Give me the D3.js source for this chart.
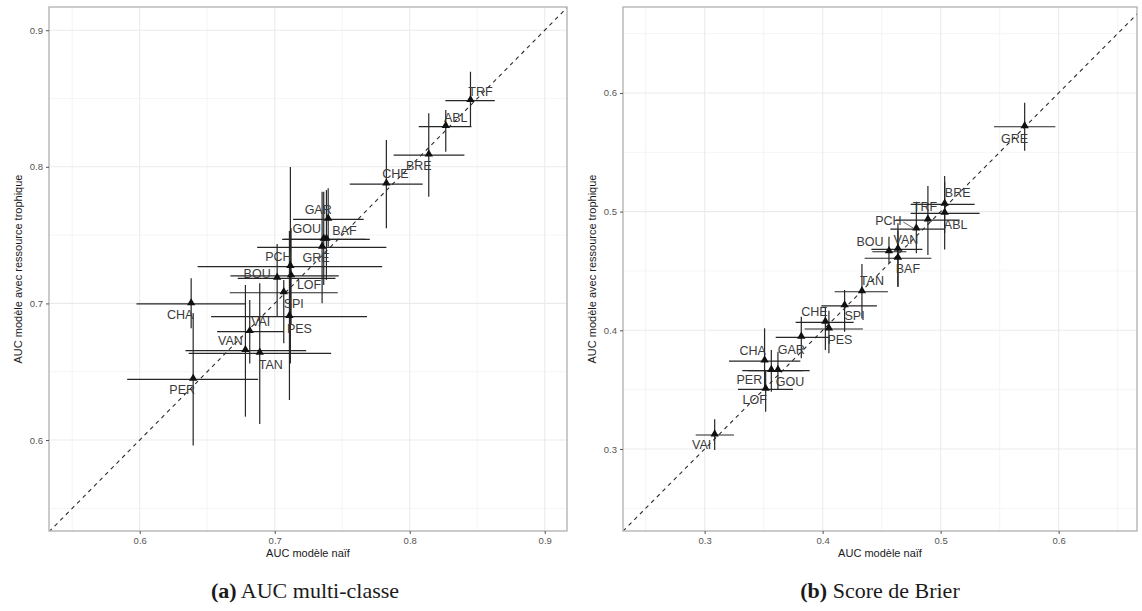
<!DOCTYPE html>
<html>
<head>
<meta charset="utf-8">
<script src="https://cdn.jsdelivr.net/npm/d3@7"></script>
<style>
  html, body { margin: 0; padding: 0; background: #fff; }
  svg { display: block; }
  text { font-family: "Liberation Sans", Arial, sans-serif; }
  text.caption { font-family: "Liberation Serif", "Times New Roman", serif; }
</style>
</head>
<body>
<svg id="chart" width="1142" height="611"></svg>
<script>
// ---------- DATA ----------
// Panel (a) AUC multi-classe
const aNames = ["TRF","ABL","BRE","CHE","GAR","GOU","BAF","GRE","PCH","LOF","BOU","SPI","PES","CHA","VAI","VAN","TAN","PER"];
const aX   = [0.845,0.8267,0.8141,0.7827,0.7396,0.7363,0.7383,0.7351,0.7116,0.7121,0.7018,0.7067,0.7109,0.6381,0.6815,0.6783,0.6889,0.6396];
const aXlo = [0.8264,0.8067,0.7881,0.7556,0.7136,0.7055,0.7067,0.687,0.6429,0.6672,0.6726,0.6667,0.6529,0.5976,0.6573,0.6339,0.6363,0.5907];
const aXhi = [0.863,0.8457,0.8405,0.8096,0.7659,0.7704,0.7672,0.7827,0.7796,0.7474,0.745,0.7467,0.7684,0.6784,0.7067,0.7233,0.7418,0.6877];
const aY   = [0.8484,0.8294,0.8086,0.7874,0.7616,0.7469,0.7469,0.7411,0.7269,0.7201,0.7184,0.7078,0.6903,0.6996,0.6793,0.6654,0.6635,0.6444];
const aYlo = [0.8294,0.8111,0.7781,0.755,0.7415,0.7135,0.7172,0.7001,0.656,0.685,0.6903,0.6708,0.6293,0.6818,0.6561,0.6171,0.6117,0.596];
const aYhi = [0.8696,0.8416,0.8392,0.8196,0.7843,0.7818,0.783,0.7818,0.7998,0.755,0.7435,0.7171,0.753,0.7184,0.7025,0.7135,0.7147,0.693];
const aTicks = [0.6, 0.7, 0.8, 0.9];
const aMinor = [0.55, 0.65, 0.75, 0.85];

// Panel (b) Score de Brier
const bNames = ["GRE","BRE","ABL","TRF","PCH","VAN","BOU","BAF","TAN","SPI","CHE","PES","GAR","CHA","PER","GOU","LOF","VAI"];
const bX   = [0.5712,0.5034,0.5034,0.4892,0.4794,0.4638,0.4562,0.4638,0.4333,0.4186,0.4023,0.4053,0.3819,0.3508,0.3565,0.3621,0.3517,0.3085];
const bXlo = [0.5452,0.4746,0.4746,0.4619,0.4574,0.4413,0.4421,0.4356,0.4102,0.3989,0.3771,0.3847,0.3602,0.3206,0.3319,0.337,0.3282,0.2924];
const bXhi = [0.5972,0.5288,0.533,0.5161,0.5034,0.4845,0.4709,0.4921,0.4553,0.446,0.4263,0.4341,0.4059,0.3811,0.3833,0.389,0.3748,0.3248];
const bY   = [0.5715,0.5061,0.4986,0.4929,0.4853,0.4682,0.4662,0.4607,0.4325,0.4205,0.4067,0.4011,0.3941,0.3741,0.366,0.366,0.3503,0.3118];
const bYlo = [0.5513,0.482,0.468,0.4634,0.4649,0.4367,0.4564,0.4367,0.41,0.3988,0.3834,0.3806,0.3764,0.3497,0.3483,0.3497,0.3314,0.2992];
const bYhi = [0.5917,0.53,0.525,0.5216,0.5083,0.4901,0.4789,0.484,0.4559,0.434,0.4199,0.4165,0.4115,0.4017,0.3834,0.382,0.3666,0.325];
const bTicks = [0.3, 0.4, 0.5, 0.6];
const bMinor = [0.25, 0.35, 0.45, 0.55, 0.65];

const xTitle = "AUC modèle naïf";
const yTitle = "AUC modèle avec ressource trophique";

// ---------- LAYOUT (label placement offsets, px, like ggrepel) ----------
const aLabelOff = [[10,-9],[10,-9],[-10,11],[9,-10],[-10,-9],[-17,-10],[18,-8],[-6,11],[-12,-10],[18,9],[-20,-4],[10,11],[10,12],[-11,11],[11,-10],[-15,-10],[11,12],[-11,11]];
const bLabelOff = [[-10,12],[13,-11],[11,12],[-3,-13],[-28,-8],[8,-9],[-19,-10],[10,11],[10,-11],[10,10],[-11,-10],[11,11],[-10,13],[-12,-10],[-22,9],[12,11],[-11,11],[-13,10]];

const svg = d3.select("#chart");

function drawPanel(cfg) {
  const x = d3.scaleLinear().domain(cfg.xDomain).range([cfg.left, cfg.right]);
  const y = d3.scaleLinear().domain(cfg.yDomain).range([cfg.bottom, cfg.top]);
  const g = svg.append("g");

  const clipId = "clip" + cfg.id;
  svg.append("clipPath").attr("id", clipId).append("rect")
    .attr("x", cfg.left).attr("y", cfg.top)
    .attr("width", cfg.right - cfg.left).attr("height", cfg.bottom - cfg.top);

  // minor grid
  g.selectAll(".mgx").data(cfg.minor).enter().append("line")
    .attr("x1", d => x(d)).attr("x2", d => x(d))
    .attr("y1", cfg.top).attr("y2", cfg.bottom)
    .attr("stroke", "#f2f2f2").attr("stroke-width", 0.8);
  g.selectAll(".mgy").data(cfg.minor).enter().append("line")
    .attr("y1", d => y(d)).attr("y2", d => y(d))
    .attr("x1", cfg.left).attr("x2", cfg.right)
    .attr("stroke", "#f2f2f2").attr("stroke-width", 0.8);
  // major grid
  g.selectAll(".gx").data(cfg.ticks).enter().append("line")
    .attr("x1", d => x(d)).attr("x2", d => x(d))
    .attr("y1", cfg.top).attr("y2", cfg.bottom)
    .attr("stroke", "#ebebeb").attr("stroke-width", 1.1);
  g.selectAll(".gy").data(cfg.ticks).enter().append("line")
    .attr("y1", d => y(d)).attr("y2", d => y(d))
    .attr("x1", cfg.left).attr("x2", cfg.right)
    .attr("stroke", "#ebebeb").attr("stroke-width", 1.1);

  // identity line
  const lo = Math.min(cfg.xDomain[0], cfg.yDomain[0]);
  const hi = Math.max(cfg.xDomain[1], cfg.yDomain[1]);
  g.append("line")
    .attr("clip-path", `url(#${clipId})`)
    .attr("x1", x(lo)).attr("y1", y(lo))
    .attr("x2", x(hi)).attr("y2", y(hi))
    .attr("stroke", "#2b2b2b").attr("stroke-width", 1.1)
    .attr("stroke-dasharray", "4,4");

  const data = cfg.names.map((n, i) => ({
    n, x: cfg.xs[i], xlo: cfg.xlo[i], xhi: cfg.xhi[i],
    y: cfg.ys[i], ylo: cfg.ylo[i], yhi: cfg.yhi[i], off: cfg.off[i]
  }));

  // error bars
  g.selectAll(".eh").data(data).enter().append("line")
    .attr("x1", d => x(d.xlo)).attr("x2", d => x(d.xhi))
    .attr("y1", d => y(d.y)).attr("y2", d => y(d.y))
    .attr("stroke", "#262626").attr("stroke-width", 1.2);
  g.selectAll(".ev").data(data).enter().append("line")
    .attr("y1", d => y(d.ylo)).attr("y2", d => y(d.yhi))
    .attr("x1", d => x(d.x)).attr("x2", d => x(d.x))
    .attr("stroke", "#262626").attr("stroke-width", 1.2);

  // points
  const tri = d3.symbol().type(d3.symbolTriangle).size(30);
  g.selectAll(".pt").data(data).enter().append("path")
    .attr("d", tri)
    .attr("transform", d => `translate(${x(d.x)},${y(d.y) - 1})`)
    .attr("fill", "#111");

  // label segments (when label far from point)
  g.selectAll(".seg").data(data.filter(d => Math.abs(d.off[0]) > 24)).enter().append("line")
    .attr("x1", d => x(d.x) - 3).attr("y1", d => y(d.y) - 1)
    .attr("x2", d => x(d.x) + d.off[0] + 15).attr("y2", d => y(d.y) + d.off[1] + 1)
    .attr("stroke", "#444").attr("stroke-width", 0.8);

  // labels
  g.selectAll(".lb").data(data).enter().append("text")
    .attr("x", d => x(d.x) + d.off[0])
    .attr("y", d => y(d.y) + d.off[1])
    .attr("text-anchor", "middle").attr("dominant-baseline", "central")
    .attr("font-size", 12.5).attr("fill", "#3a3a3a")
    .text(d => d.n);

  // panel border
  g.append("rect")
    .attr("x", cfg.left).attr("y", cfg.top)
    .attr("width", cfg.right - cfg.left).attr("height", cfg.bottom - cfg.top)
    .attr("fill", "none").attr("stroke", "#b0b0b0").attr("stroke-width", 1.3);

  // axes
  const xAxis = d3.axisBottom(x).tickValues(cfg.ticks).tickSize(3).tickPadding(3).tickFormat(d3.format(".1f"));
  const yAxis = d3.axisLeft(y).tickValues(cfg.ticks).tickSize(3).tickPadding(3).tickFormat(d3.format(".1f"));
  const gx = svg.append("g").attr("transform", `translate(0,${cfg.bottom})`).call(xAxis);
  const gy = svg.append("g").attr("transform", `translate(${cfg.left},0)`).call(yAxis);
  [gx, gy].forEach(a => {
    a.select(".domain").remove();
    a.selectAll(".tick line").attr("stroke", "#555").attr("stroke-width", 1);
    a.selectAll(".tick text").attr("fill", "#555").attr("font-size", 9.5);
  });

  // axis titles
  svg.append("text")
    .attr("x", (cfg.left + cfg.right) / 2).attr("y", cfg.bottom + 26)
    .attr("text-anchor", "middle").attr("font-size", 11).attr("fill", "#1a1a1a")
    .text(xTitle);
  svg.append("text")
    .attr("transform", `translate(${cfg.left - 27},${(cfg.top + cfg.bottom) / 2}) rotate(-90)`)
    .attr("text-anchor", "middle").attr("font-size", 11).attr("fill", "#1a1a1a")
    .text(yTitle);

  // caption
  const cap = svg.append("text")
    .attr("class", "caption")
    .attr("x", cfg.capX).attr("y", 598)
    .attr("text-anchor", "middle").attr("font-size", 22)
    .attr("fill", "#1a1a1a");
  cap.append("tspan").attr("font-weight", "bold").text(cfg.capTag);
  cap.append("tspan").text(" " + cfg.capText);
}

drawPanel({
  id: "a", left: 49, right: 567, top: 7, bottom: 531,
  xDomain: [0.5328, 0.9165], yDomain: [0.5334, 0.917],
  ticks: aTicks, minor: aMinor,
  names: aNames, xs: aX, xlo: aXlo, xhi: aXhi, ys: aY, ylo: aYlo, yhi: aYhi, off: aLabelOff,
  capX: 305, capTag: "(a)", capText: "AUC multi-classe"
});

drawPanel({
  id: "b", left: 623, right: 1137, top: 7, bottom: 531,
  xDomain: [0.2308, 0.6664], yDomain: [0.2309, 0.6724],
  ticks: bTicks, minor: bMinor,
  names: bNames, xs: bX, xlo: bXlo, xhi: bXhi, ys: bY, ylo: bYlo, yhi: bYhi, off: bLabelOff,
  capX: 880, capTag: "(b)", capText: "Score de Brier"
});
</script>
</body>
</html>
